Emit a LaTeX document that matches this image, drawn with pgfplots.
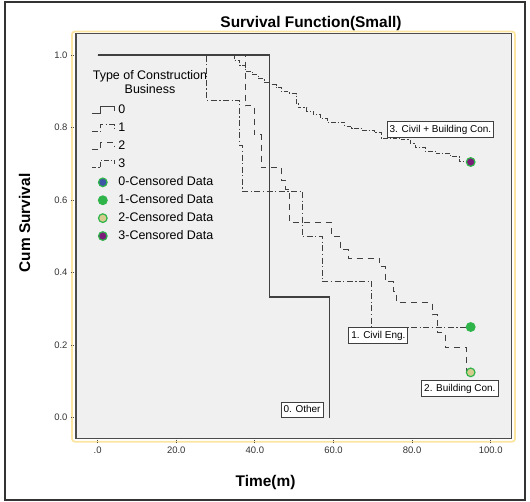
\documentclass[border=0pt]{standalone}
\usepackage{fontspec}
\setmainfont{Liberation Sans}
\usepackage{pgfplots}
\pgfplotsset{compat=1.18}

\definecolor{plotbg}{HTML}{F0F0F0}
\definecolor{framey}{HTML}{FCE5A0}
\definecolor{curve}{HTML}{404040}
\definecolor{cgreen}{HTML}{2FB44A}
\definecolor{cblue}{HTML}{3E56A6}
\definecolor{ctan}{HTML}{D6CC8E}
\definecolor{cpurple}{HTML}{7A1D78}

\pgfplotsset{
    step legend/.style={legend image code/.code={\draw[##1] (0bp,-3bp) -- (9bp,-3bp) -- (9bp,4bp) -- (23bp,4bp) -- (23bp,0bp);}},
    censor legend/.style={legend image code/.code={\path[draw=none] (0bp,0bp) -- (23bp,0bp); \draw[##1, draw=none] plot[only marks] coordinates {(11bp,0bp)};}},
    censor/.style={only marks, mark=*, mark size=4.3bp, censor legend,
        mark options={solid, fill=#1, draw=cgreen, line width=1.2bp}},
}

\begin{document}
\begin{tikzpicture}[x=1bp,y=1bp]
\useasboundingbox (0,0) rectangle (530,502);
\draw[line width=1.5bp, black!80] (5,2) rectangle (525,500);
\draw[framey, line width=1.8bp, rounded corners=3bp] (72,60.3) rectangle (515,470.5);

\begin{axis}[
    at={(76bp,63.7bp)}, anchor=south west,
    scale only axis, width=435.7bp, height=404.5bp,
    xmin=-5.52, xmax=105.34,
    ymin=-0.0568, ymax=1.0585,
    axis background/.style={fill=plotbg},
    axis line style={black!70, line width=1.3bp},
    xtick={0,20,40,60,80,100},
    xticklabels={.0,20.0,40.0,60.0,80.0,100.0},
    ytick={0,0.2,0.4,0.6,0.8,1},
    yticklabels={0.0,0.2,0.4,0.6,0.8,1.0},
    xtick pos=bottom, ytick pos=left,
    tick align=outside, major tick length=5bp,
    tick style={black!70, line width=0.9bp, dash pattern=on 1bp off 1bp},
    tick label style={font=\fontsize{9.5}{11}\selectfont, text=black!80},
    /pgf/number format/assume math mode=true,
    step legend,
    legend style={at={(rel axis cs:0.0275,0.830)}, anchor=north west, draw=none, fill=none,
        font=\fontsize{12.5}{14}\selectfont, row sep=5.9bp,
        nodes={inner xsep=3bp, inner ysep=0pt, text height=9bp, text depth=3bp}},
    legend cell align=left,
    clip=false,
]

% group 0 - other
\addplot[const plot, curve, line width=1.3bp] coordinates {
    (0,1) (43.8,0.333) (58.95,0.0)
};
\addlegendentry{0}

% group 1 - civil eng
\addplot[const plot, curve, line width=1bp, dash pattern=on 6bp off 2.5bp on 1.2bp off 2.5bp] coordinates {
    (0,1) (27.8,0.875) (36.2,0.75) (36.75,0.625) (52.0,0.5) (57.1,0.375) (69.75,0.25) (94.9,0.25)
};
\addlegendentry{1}

% group 2 - building con
\addplot[const plot, curve, line width=1bp, dash pattern=on 6bp off 5bp] coordinates {
    (0,1) (37.5,0.86) (39.8,0.78) (41.6,0.69) (46.7,0.655) (47.75,0.63) (48.9,0.537)
    (59.6,0.499) (61.7,0.463) (63.7,0.44) (71.8,0.416) (73.1,0.375) (75.2,0.347)
    (76.1,0.317) (85.1,0.284) (86.55,0.234) (88.4,0.193) (93.9,0.125) (94.9,0.125)
};
\addlegendentry{2}

% group 3 - civil + building
\addplot[const plot, curve, line width=1bp, dash pattern=on 4.5bp off 2bp on 1.2bp off 2bp] coordinates {
    (0,1) (34.7,0.985) (36.2,0.97) (37.7,0.955) (39.3,0.945) (40.8,0.935) (42.35,0.925)
    (43.8,0.918) (45.4,0.91) (46.7,0.898) (48.9,0.893) (50.5,0.865) (51.0,0.854)
    (53.25,0.845) (54.8,0.835) (56.6,0.825) (58.4,0.815) (62.9,0.804) (64.7,0.798)
    (67.3,0.793) (70.5,0.785) (72.1,0.771) (76.9,0.766) (79.5,0.756) (80.8,0.745)
    (83.3,0.735) (85.9,0.728) (89.7,0.72) (91.95,0.705) (94.9,0.705)
};
\addlegendentry{3}

% censored markers
\addlegendimage{censor=cblue}
\addlegendentry{0-Censored Data}

\addplot[censor=cgreen] coordinates {(94.9,0.25)};
\addlegendentry{1-Censored Data}

\addplot[censor=ctan] coordinates {(94.9,0.125)};
\addlegendentry{2-Censored Data}

\addplot[censor=cpurple] coordinates {(94.9,0.705)};
\addlegendentry{3-Censored Data}

% curve labels
\tikzset{lbl/.style={draw=black!75, fill=white, line width=1bp, font=\fontsize{10}{12}\selectfont,
    inner xsep=2.5bp, inner ysep=2.5bp, text height=8bp, text depth=2.5bp}}
\node[lbl] at (axis cs:87.2,0.795) {3. Civil + Building Con.};
\node[lbl] at (axis cs:71.4,0.227) {1. Civil Eng.};
\node[lbl] at (axis cs:92.15,0.080) {2. Building Con.};
\node[lbl] at (axis cs:52.0,0.021) {0. Other};
\end{axis}

\node[align=center, font=\fontsize{12.5}{14}\selectfont] at (150,420) {Type of Construction\\Business};
\node[anchor=base, font=\bfseries\fontsize{15.5}{18}\selectfont] at (311,474.5) {Survival Function(Small)};
\node[anchor=base, font=\bfseries\fontsize{15.5}{18}\selectfont] at (265.5,15) {Time(m)};
\node[anchor=base, rotate=90, font=\bfseries\fontsize{15.5}{18}\selectfont] at (30,279) {Cum Survival};
\end{tikzpicture}
\end{document}
